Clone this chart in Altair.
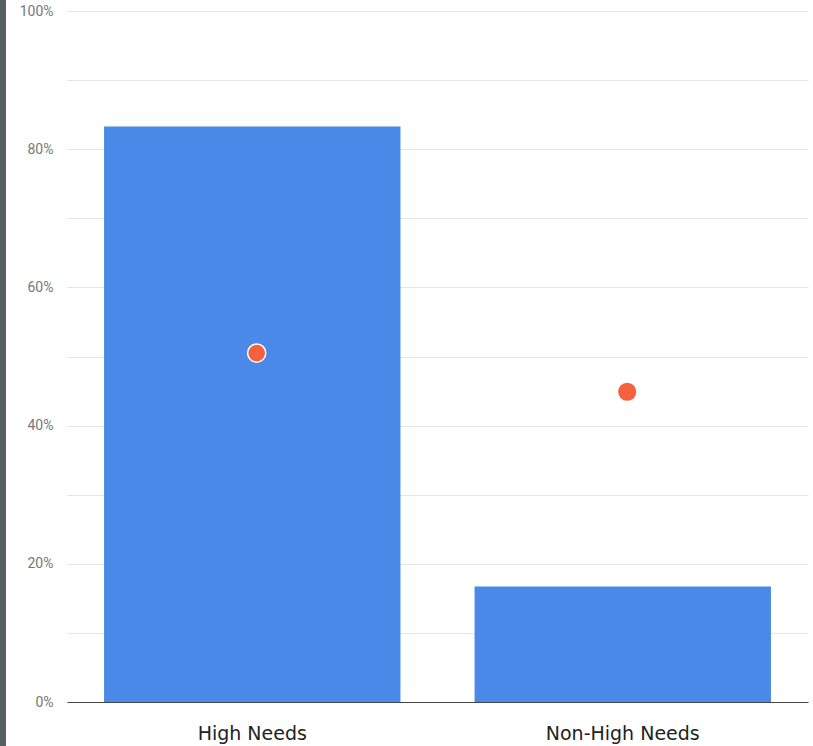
import altair as alt
import pandas as pd

categories = ["High Needs", "Non-High Needs"]
bar_values = [0.833, 0.167]
point_values = [0.505, 0.449]
point_stroke = ["white", "transparent"]

df = pd.DataFrame({
    "category": categories,
    "bar": bar_values,
    "point": point_values,
    "stroke": point_stroke,
})

tick_vals = [i / 10 for i in range(11)]

x_enc = alt.X(
    "category:N",
    sort=categories,
    title=None,
    scale=alt.Scale(paddingInner=0.2, paddingOuter=0.1),
    axis=alt.Axis(
        labelAngle=0,
        labelFont="DejaVu Sans",
        labelFontSize=19,
        labelColor="#222222",
        labelPadding=22,
        ticks=False,
        domainColor="#444444",
        domainWidth=1.2,
        grid=False,
    ),
)

y_enc_axis = alt.Axis(
    values=tick_vals,
    labelExpr="round(datum.value*10) % 2 == 0 ? format(datum.value, '.0%') : ''",
    labelFont="Roboto",
    labelFontSize=14,
    labelColor="#777777",
    labelPadding=14,
    ticks=False,
    domain=False,
    gridColor="#e6e6e6",
    gridWidth=1,
    title=None,
)

bars = alt.Chart(df).mark_bar(color="#4a89e8").encode(
    x=x_enc,
    y=alt.Y("bar:Q", scale=alt.Scale(domain=[0, 1], nice=False), axis=y_enc_axis),
)

points = alt.Chart(df).mark_point(
    filled=True, size=330, color="#f5603f", opacity=1, strokeWidth=1.5, shape="circle"
).encode(
    x=alt.X("category:N", sort=categories, bandPosition=0.515),
    y=alt.Y("point:Q"),
    stroke=alt.Stroke("stroke:N", scale=None),
)

left_bar = alt.Chart(df).mark_rect(color="#56615f").encode(
    x=alt.value(-67), x2=alt.value(-61), y=alt.value(-11), y2=alt.value(735)
)

chart = alt.layer(bars, points, left_bar).properties(
    width=741,
    height=691,
    padding={"left": 67, "top": 11, "right": 5, "bottom": 44},
    autosize=alt.AutoSizeParams(type="none"),
    background="white",
).configure_view(stroke=None)

chart.save("out.html", embed_options={"renderer": "svg", "actions": False})
